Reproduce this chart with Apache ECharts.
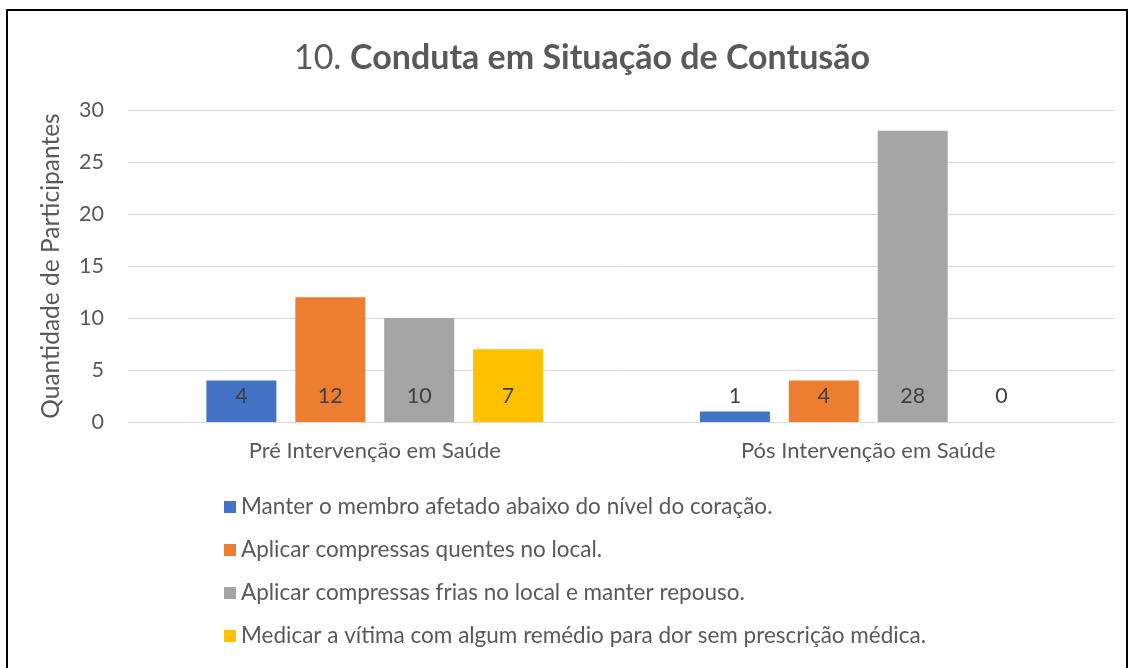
<!DOCTYPE html>
<html>
<head>
<meta charset="utf-8">
<script src="https://cdn.jsdelivr.net/npm/echarts@6/dist/echarts.min.js"></script>
<style>
  html, body { margin: 0; padding: 0; background: #ffffff; }
  #chart { width: 1134px; height: 668px; }
</style>
</head>
<body>
<div id="chart"></div>
<script>
// categorias e valores
var categorias = ['Pré Intervenção em Saúde', 'Pós Intervenção em Saúde'];
var manterMembro = [4, 1];
var compressasQuentes = [12, 4];
var compressasFrias = [10, 28];
var medicarVitima = [7, 0];
var nomesSeries = [
	'Manter o membro afetado abaixo do nível do coração.',
	'Aplicar compressas quentes no local.',
	'Aplicar compressas frias no local e manter repouso.',
	'Medicar a vítima com algum remédio para dor sem prescrição médica.'
];
var cores = ['#4472C4', '#ED7D31', '#A5A5A5', '#FFC000'];

var fonte = 'Lato, "Open Sans", sans-serif';
var chart = echarts.init(document.getElementById('chart'));

function montarSerie(nome, dados, cor) {
	return {
		name: nome,
		type: 'bar',
		data: dados,
		barWidth: 70,
		barGap: '27%',
		itemStyle: { color: cor },
		label: {
			show: true,
			position: 'insideBottom',
			distance: 15,
			color: '#404040',
			fontFamily: fonte,
			fontSize: 21.5
		}
	};
}

var series = [
	montarSerie(nomesSeries[0], manterMembro, cores[0]),
	montarSerie(nomesSeries[1], compressasQuentes, cores[1]),
	montarSerie(nomesSeries[2], compressasFrias, cores[2]),
	montarSerie(nomesSeries[3], medicarVitima, cores[3])
];

chart.setOption({
	animation: false,
	backgroundColor: '#ffffff',
	title: {
		text: '{n|10. }{b|Conduta em Situação de Contusão}',
		left: 577,
		textAlign: 'center',
		top: 36,
		textStyle: {
			fontWeight: 'normal',
			rich: {
				n: { fontFamily: fonte, fontSize: 34, fontWeight: 'normal', color: '#595959' },
				b: { fontFamily: fonte, fontSize: 34, fontWeight: 'bold', color: '#595959' }
			}
		}
	},
	grid: { left: 128, right: 19, top: 110, height: 312, containLabel: false },
	legend: {
		orient: 'vertical',
		left: 224,
		top: 495,
		padding: 0,
		itemWidth: 12,
		itemHeight: 12,
		itemGap: 19,
		icon: 'rect',
		textStyle: { fontFamily: fonte, fontSize: 22.5, color: '#595959', lineHeight: 24 },
		data: nomesSeries
	},
	xAxis: {
		type: 'category',
		data: categorias,
		axisTick: { show: false },
		axisLine: { lineStyle: { color: '#D9D9D9', width: 1 } },
		axisLabel: { fontFamily: fonte, fontSize: 22, color: '#595959', margin: 18 }
	},
	yAxis: {
		type: 'value',
		min: 0,
		max: 30,
		interval: 5,
		name: 'Quantidade de Participantes',
		nameLocation: 'middle',
		nameGap: 64,
		nameTextStyle: { fontFamily: fonte, fontSize: 24.5, color: '#595959' },
		axisLine: { show: false },
		axisTick: { show: false },
		axisLabel: { fontFamily: fonte, fontSize: 21.5, color: '#595959', margin: 24 },
		splitLine: { lineStyle: { color: '#D9D9D9', width: 1 } }
	},
	graphic: [{
		type: 'rect',
		shape: { x: 7, y: 10, width: 1120, height: 700 },
		style: { fill: null, stroke: '#000000', lineWidth: 2 },
		silent: true
	}],
	series: series
});
</script>
</body>
</html>
